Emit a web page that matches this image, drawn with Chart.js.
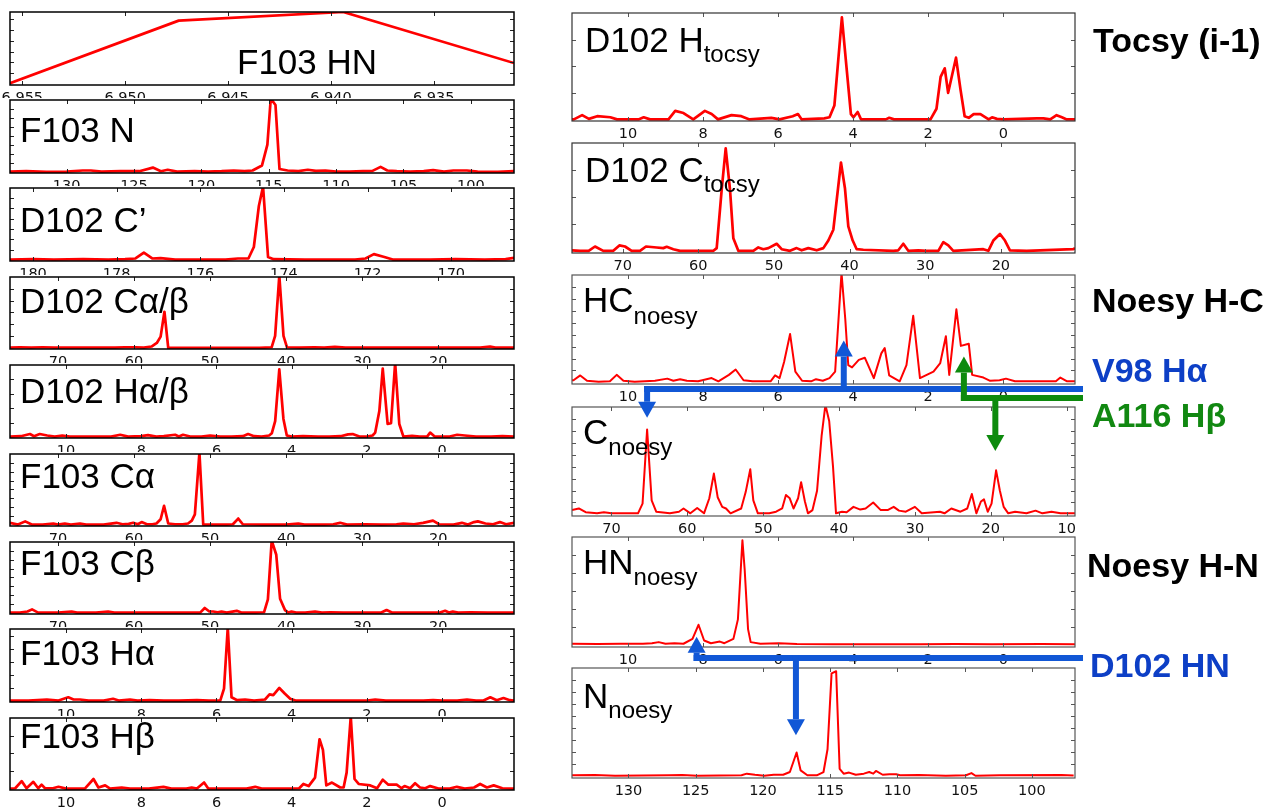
<!DOCTYPE html>
<html><head><meta charset="utf-8">
<script src="https://cdn.jsdelivr.net/npm/chart.js@4.4.1/dist/chart.umd.min.js"></script>
<style>
html,body{margin:0;padding:0;background:#fff;}
#page{position:relative;width:1273px;height:807px;overflow:hidden;background:#fff;}
.pn{position:absolute;background:#fff;}
.pn canvas{display:block;}
#ov{position:absolute;left:0;top:0;z-index:100;pointer-events:none;}
</style></head>
<body><div id="page">
<svg id="ov" width="1273" height="807" xmlns="http://www.w3.org/2000/svg">
<g id="arrows"></g>
<g font-family="'Liberation Sans', Arial, sans-serif" font-size="35" fill="#000">
<text x="237" y="74">F103 HN</text>
<text x="20" y="142">F103 N</text>
<text x="20" y="232">D102 C’</text>
<text x="20" y="313">D102 Cα/β</text>
<text x="20" y="403">D102 Hα/β</text>
<text x="20" y="488">F103 Cα</text>
<text x="20" y="575">F103 Cβ</text>
<text x="20" y="665">F103 Hα</text>
<text x="20" y="748">F103 Hβ</text>
<text x="585" y="52">D102 H<tspan dy="10" font-size="24">tocsy</tspan></text>
<text x="585" y="182">D102 C<tspan dy="10" font-size="24">tocsy</tspan></text>
<text x="583" y="312">HC<tspan dy="12" font-size="24">noesy</tspan></text>
<text x="583" y="444">C<tspan dy="11" font-size="24">noesy</tspan></text>
<text x="583" y="574">HN<tspan dy="11" font-size="24">noesy</tspan></text>
<text x="583" y="708">N<tspan dy="10" font-size="24">noesy</tspan></text>
</g>
<g font-family="'Liberation Sans', Arial, sans-serif" font-size="34" font-weight="bold">
<text x="1093" y="52" fill="#000">Tocsy (i-1)</text>
<text x="1092" y="312" fill="#000">Noesy H-C</text>
<text x="1092" y="382" fill="#0d3fc6">V98 Hα</text>
<text x="1092" y="427" fill="#118811">A116 Hβ</text>
<text x="1087" y="577" fill="#000">Noesy H-N</text>
<text x="1090" y="677" fill="#0d3fc6">D102 HN</text>
</g>
</svg>
</div>
<script>
// ---------- axis ranges (ppm) ----------
const HN_RANGE = [6.9311, 6.9556];
const N_RANGE  = [96.8, 134.2];
const CO_RANGE = [168.5, 180.55];
const C_RANGE  = [10.05, 76.3];
const H_RANGE  = [-1.91, 11.49];
const CT_RANGE = [10.2, 76.7];
const CN_RANGE = [8.9, 75.2];

// ---------- spectra: [ppm, normalised intensity] ----------
const F103_HN = [[6.9556,0.01],[6.9474,0.88],[6.9394,1.0],[6.9311,0.29]];
const F103_N = [[134.2,0.005],[133,0.01],[131.5,0.0],[130,0.005],[128.8,0.02],[128.2,0.02],[127.4,0.005],[126,0.01],[124.6,0.01],[123.6,0.06],[123,0.01],[122.5,0.03],[121.8,0.005],[120.5,0.01],[119.5,0.005],[118.5,0.01],[117.6,0.02],[116.8,0.01],[116.2,0.02],[115.5,0.09],[115.1,0.38],[114.85,1.02],[114.5,0.93],[114.2,0.04],[113.6,0.02],[112.8,0.01],[112.1,0.03],[111.5,0.015],[110.8,0.02],[110,0.005],[109,0.005],[108,0.01],[107.3,0.015],[106.7,0.07],[106.2,0.02],[105.5,0.01],[104.5,0.005],[103.5,0.01],[102.8,0.025],[102,0.005],[101.3,0.02],[100.3,0.02],[99.5,0.005],[98,0.0],[96.8,0.01]];
const D102_CO = [[180.55,0.005],[180,0.01],[179.5,0.005],[178.8,0.01],[178.2,0.005],[177.8,0.01],[177.55,0.02],[177.35,0.1],[177.15,0.02],[176.95,0.025],[176.6,0.005],[176,0.005],[175.4,0.005],[175.1,0.02],[174.85,0.02],[174.72,0.18],[174.6,0.75],[174.5,1.02],[174.38,0.04],[174.25,0.01],[173.5,0.005],[173,0.005],[172.3,0.005],[172.05,0.02],[171.85,0.08],[171.6,0.04],[171.4,0.005],[170.5,0.005],[169.9,0.01],[169.2,0.005],[168.7,0.01],[168.5,0.03]];
const D102_CAB = [[76.3,0.005],[75,0.01],[73.5,0.005],[72,0.01],[70.5,0.005],[68,0.005],[65,0.005],[62.5,0.005],[61.2,0.01],[59.8,0.01],[58.7,0.005],[57.7,0.02],[57.0,0.07],[56.5,0.16],[56.0,0.51],[55.5,0.0],[54.5,0.0],[50,0.0],[46,0.0],[43.5,0.0],[41.9,0.01],[41.45,0.17],[40.9,1.02],[40.35,0.17],[39.9,0.01],[38.2,0.005],[36.3,0.01],[35,0.005],[33.6,0.015],[32.2,0.005],[28,0.005],[25,0.005],[22,0.005],[18,0.005],[14.5,0.005],[13.2,0.02],[12.5,0.005],[10.05,0.005]];
const D102_HAB = [[11.49,0.005],[11.2,0.01],[10.96,0.04],[10.85,0.01],[10.7,0.04],[10.5,0.02],[10.3,0.005],[10.1,0.02],[9.9,0.005],[9.2,0.005],[8.8,0.005],[8.56,0.03],[8.35,0.005],[8.0,0.01],[7.82,0.025],[7.6,0.005],[7.4,0.01],[7.1,0.03],[7.0,0.005],[6.89,0.03],[6.7,0.005],[6.4,0.005],[6.17,0.02],[5.9,0.005],[5.6,0.005],[5.3,0.01],[5.16,0.04],[5.0,0.01],[4.8,0.005],[4.6,0.02],[4.53,0.05],[4.44,0.22],[4.33,0.94],[4.22,0.25],[4.13,0.02],[4.0,0.005],[3.7,0.01],[3.3,0.005],[3.0,0.005],[2.7,0.01],[2.5,0.035],[2.38,0.04],[2.2,0.005],[2.0,0.005],[1.85,0.02],[1.78,0.06],[1.67,0.36],[1.58,0.95],[1.45,0.18],[1.36,0.19],[1.25,1.03],[1.14,0.18],[1.03,0.005],[0.8,0.015],[0.6,0.005],[0.4,0.005],[0.32,0.06],[0.2,0.005],[-0.2,0.005],[-0.4,0.03],[-0.6,0.02],[-0.9,0.005],[-1.3,0.005],[-1.6,0.01],[-1.91,0.005]];
const F103_CA = [[76.3,0.03],[75.25,0.005],[74.3,0.05],[73.45,0.005],[72,0.005],[70.6,0.02],[70.0,0.005],[69.1,0.02],[68.3,0.005],[67.1,0.02],[66.3,0.005],[64,0.005],[62.3,0.03],[61.5,0.01],[60.7,0.015],[60.1,0.03],[59.5,0.01],[59.0,0.04],[58.3,0.01],[57.6,0.01],[57.05,0.02],[56.5,0.08],[56.05,0.27],[55.5,0.02],[54.6,0.01],[53.6,0.01],[52.9,0.02],[52.4,0.06],[52.0,0.15],[51.4,1.02],[50.9,0.005],[49.3,0.005],[47.8,0.005],[47.0,0.01],[46.3,0.09],[45.7,0.01],[43,0.005],[40,0.005],[38.4,0.02],[37.6,0.005],[35,0.005],[33.8,0.01],[32.9,0.03],[32.0,0.005],[29.6,0.01],[27.5,0.005],[25.5,0.01],[24.6,0.02],[23.2,0.01],[22.0,0.03],[20.7,0.06],[19.9,0.01],[18,0.005],[16.9,0.03],[16.1,0.005],[15.3,0.04],[14.8,0.05],[13.8,0.02],[12.8,0.01],[11.9,0.04],[11.1,0.01],[10.05,0.03]];
const F103_CB = [[76.3,0.005],[75,0.005],[74,0.02],[73.4,0.05],[72.6,0.005],[70,0.005],[68.2,0.02],[67.5,0.005],[65,0.005],[63.4,0.02],[62.6,0.005],[58,0.005],[54,0.005],[51.3,0.005],[50.7,0.07],[50.1,0.02],[49.6,0.02],[49.0,0.01],[48.5,0.02],[47.8,0.005],[46.5,0.03],[45.9,0.005],[44,0.005],[42.9,0.01],[42.4,0.19],[41.9,1.02],[41.3,0.82],[40.8,0.2],[40.15,0.04],[39.7,0.005],[39.3,0.02],[38.7,0.005],[37.5,0.005],[36.2,0.02],[35.3,0.005],[34.2,0.01],[32.5,0.005],[29.5,0.005],[27.5,0.005],[26.8,0.04],[26.1,0.005],[22.5,0.005],[19.8,0.005],[19.1,0.03],[18.6,0.005],[18.1,0.02],[17.4,0.005],[15.8,0.01],[13.5,0.005],[10.05,0.005]];
const F103_HA = [[11.49,0.005],[11,0.005],[10.51,0.02],[10.2,0.005],[9.94,0.05],[9.8,0.02],[9.63,0.02],[9.4,0.005],[9,0.005],[8.75,0.03],[8.6,0.005],[8.3,0.02],[8.1,0.005],[7.77,0.01],[7.4,0.005],[7,0.005],[6.52,0.01],[6.2,0.005],[5.9,0.005],[5.8,0.17],[5.7,1.02],[5.6,0.05],[5.45,0.01],[5.24,0.02],[5.0,0.005],[4.71,0.02],[4.59,0.09],[4.49,0.08],[4.33,0.18],[4.18,0.1],[4.04,0.03],[3.9,0.005],[3.5,0.005],[3,0.005],[2.5,0.005],[2,0.005],[1.78,0.02],[1.5,0.005],[1,0.005],[0.5,0.005],[0.24,0.01],[0,0.005],[-0.4,0.005],[-0.66,0.02],[-0.9,0.005],[-1.1,0.005],[-1.28,0.05],[-1.45,0.01],[-1.63,0.04],[-1.8,0.01],[-1.91,0.005]];
const F103_HB = [[11.49,0.005],[11.35,0.01],[11.18,0.11],[11.05,0.01],[10.87,0.1],[10.74,0.01],[10.65,0.06],[10.56,0.01],[10.35,0.01],[10.2,0.03],[10.0,0.005],[9.5,0.005],[9.27,0.14],[9.14,0.02],[8.96,0.05],[8.83,0.005],[8.52,0.02],[8.3,0.005],[7.8,0.005],[7.41,0.03],[7.2,0.005],[6.8,0.005],[6.66,0.02],[6.52,0.005],[6.33,0.09],[6.22,0.005],[5.8,0.005],[5.2,0.005],[4.97,0.03],[4.8,0.005],[4.3,0.005],[4.0,0.005],[3.8,0.01],[3.69,0.07],[3.55,0.04],[3.38,0.16],[3.26,0.70],[3.17,0.55],[3.08,0.05],[2.93,0.09],[2.71,0.02],[2.62,0.02],[2.54,0.23],[2.43,1.02],[2.33,0.14],[2.22,0.07],[1.91,0.05],[1.73,0.01],[1.58,0.13],[1.43,0.06],[1.21,0.06],[1.08,0.01],[1.0,0.04],[0.85,0.01],[0.72,0.08],[0.59,0.02],[0.45,0.01],[0.32,0.04],[0.1,0.005],[-0.2,0.005],[-0.39,0.03],[-0.6,0.005],[-0.85,0.02],[-1.01,0.07],[-1.19,0.02],[-1.37,0.05],[-1.6,0.01],[-1.91,0.005]];
const D102_HTOCSY = [[11.49,0.0],[11.44,0.0],[11.22,0.04],[11.04,0.005],[10.82,0.03],[10.47,0.02],[10.29,0.0],[9.72,0.0],[9.58,0.02],[9.41,0.0],[8.92,0.0],[8.74,0.08],[8.52,0.06],[8.26,0.0],[7.95,0.08],[7.77,0.05],[7.6,0.0],[7.24,0.04],[6.98,0.03],[6.76,0.0],[6.18,0.015],[5.96,0.0],[5.61,0.03],[5.47,0.05],[5.37,0.0],[4.77,0.01],[4.63,0.02],[4.5,0.13],[4.30,0.96],[4.18,0.5],[4.06,0.05],[3.99,0.02],[3.88,0.07],[3.79,0.0],[3.13,0.0],[3.04,0.015],[2.91,0.0],[1.94,0.0],[1.78,0.1],[1.67,0.4],[1.56,0.48],[1.47,0.25],[1.26,0.58],[1.14,0.28],[1.03,0.03],[0.92,0.015],[0.79,0.05],[0.61,0.05],[0.39,0.0],[0.30,0.02],[0.17,0.005],[-0.01,0.0],[-0.89,0.01],[-1.07,0.01],[-1.25,0.0],[-1.42,0.04],[-1.56,0.02],[-1.69,0.0],[-1.91,0.0]];
const D102_CTOCSY = [[76.7,0.01],[75.64,0.005],[74.5,0.005],[73.66,0.045],[72.56,0.005],[71.24,0.005],[70.44,0.055],[69.69,0.045],[68.81,0.005],[67.71,0.005],[66.92,0.045],[65.51,0.036],[64.63,0.03],[64.18,0.042],[63.3,0.02],[62.42,0.005],[58,0.005],[57.57,0.03],[56.91,0.57],[56.38,0.95],[55.81,0.57],[55.37,0.12],[54.71,0.005],[52.73,0.005],[52.07,0.036],[51.41,0.02],[50.74,0.03],[49.64,0.07],[48.98,0.02],[47.88,0.005],[47.0,0.03],[46.34,0.01],[45.46,0.03],[44.35,0.01],[43.47,0.03],[42.81,0.1],[42.15,0.2],[41.14,0.82],[40.61,0.58],[40.17,0.23],[39.59,0.1],[39.06,0.02],[38.18,0.015],[34.22,0.005],[33.56,0.01],[32.9,0.07],[32.24,0.005],[30.91,0.01],[29.81,0.005],[28.27,0.005],[27.61,0.085],[26.95,0.055],[26.29,0.005],[22.32,0.02],[21.66,0.005],[21.0,0.1],[20.12,0.16],[19.46,0.1],[18.8,0.01],[16.59,0.005],[10.42,0.02],[10.2,0.03]];
const HC_NOESY = [[11.49,0.02],[11.45,0.02],[11.27,0.065],[11.09,0.015],[10.78,0.005],[10.48,0.01],[10.3,0.07],[10.12,0.015],[9.82,0.005],[9.28,0.015],[8.95,0.035],[8.79,0.015],[8.61,0.03],[8.43,0.015],[8.13,0.01],[7.77,0.04],[7.59,0.01],[7.31,0.07],[7.13,0.12],[6.92,0.02],[6.68,0.01],[6.2,0.01],[6.08,0.065],[5.96,0.04],[5.84,0.19],[5.68,0.45],[5.54,0.1],[5.36,0.015],[5.12,0.01],[4.99,0.03],[4.81,0.015],[4.63,0.04],[4.48,0.1],[4.31,1.02],[4.21,0.59],[4.13,0.16],[4.03,0.14],[3.85,0.21],[3.69,0.23],[3.45,0.04],[3.25,0.27],[3.16,0.32],[3.04,0.065],[2.76,0.01],[2.58,0.16],[2.40,0.62],[2.22,0.04],[1.86,0.1],[1.68,0.18],[1.53,0.43],[1.44,0.07],[1.25,0.68],[1.13,0.34],[0.92,0.36],[0.83,0.07],[0.53,0.045],[0.35,0.015],[0.1,0.02],[-0.07,0.035],[-0.31,0.01],[-0.92,0.01],[-1.4,0.01],[-1.52,0.045],[-1.7,0.01],[-1.91,0.01]];
const C_NOESY = [[75.2,0.04],[74.3,0.055],[73.4,0.02],[71.9,0.01],[71.0,0.02],[70.0,0.01],[66.5,0.01],[65.9,0.1],[65.3,0.79],[64.7,0.13],[64.1,0.025],[62.3,0.01],[61.1,0.025],[60.5,0.055],[59.6,0.01],[58.7,0.06],[57.8,0.01],[57.1,0.15],[56.5,0.38],[56.0,0.16],[55.4,0.07],[54.9,0.055],[54.3,0.01],[52.9,0.055],[52.3,0.21],[51.7,0.42],[51.3,0.13],[50.7,0.01],[49.2,0.01],[48.3,0.025],[47.5,0.055],[47.0,0.18],[46.5,0.15],[46.0,0.055],[45.4,0.15],[45.0,0.3],[44.5,0.12],[44.1,0.01],[43.5,0.04],[42.9,0.22],[42.3,0.73],[41.8,1.02],[41.3,0.87],[40.8,0.45],[40.4,0.01],[39.6,0.025],[39.0,0.02],[38.1,0.07],[37.2,0.045],[36.5,0.055],[35.5,0.11],[34.5,0.04],[33.6,0.04],[32.8,0.07],[32.1,0.035],[31.2,0.025],[30.0,0.07],[29.1,0.01],[26.7,0.025],[26.1,0.01],[25.2,0.055],[24.0,0.025],[23.1,0.055],[22.5,0.19],[21.9,0.01],[21.3,0.12],[20.9,0.14],[20.4,0.025],[19.9,0.1],[19.3,0.41],[18.8,0.22],[18.3,0.07],[17.7,0.01],[16.8,0.025],[15.3,0.01],[14.1,0.035],[13.2,0.01],[12.0,0.025],[10.8,0.01],[8.9,0.01]];
const HN_NOESY = [[11.49,0.015],[11.47,0.015],[10.81,0.012],[10.2,0.015],[9.6,0.015],[9.36,0.02],[9.18,0.03],[9.0,0.015],[8.76,0.02],[8.52,0.015],[8.28,0.06],[8.12,0.19],[7.97,0.045],[7.79,0.02],[7.55,0.035],[7.43,0.02],[7.19,0.06],[7.07,0.24],[6.95,0.97],[6.89,0.70],[6.8,0.15],[6.73,0.03],[6.47,0.015],[5.98,0.02],[5.5,0.012],[4.54,0.01],[3.33,0.01],[2.2,0.01],[1.28,0.012],[0.3,0.01],[-1.01,0.012],[-1.91,0.01]];
const N_NOESY = [[134.2,0.01],[132.5,0.012],[131.0,0.006],[127.0,0.01],[126.0,0.012],[124.9,0.006],[121.6,0.01],[121.2,0.025],[120.6,0.015],[119.9,0.006],[119.2,0.015],[118.5,0.015],[118.0,0.04],[117.5,0.22],[117.2,0.055],[116.7,0.01],[116.0,0.01],[115.5,0.04],[115.2,0.25],[114.9,0.95],[114.56,0.97],[114.3,0.07],[114.0,0.025],[113.6,0.035],[113.1,0.015],[112.5,0.025],[112.1,0.04],[111.8,0.025],[111.6,0.05],[111.1,0.015],[110.6,0.02],[110.1,0.02],[109.8,0.01],[108.4,0.012],[106.4,0.006],[104.9,0.01],[104.5,0.03],[104.2,0.006],[102.4,0.01],[97.8,0.012],[96.9,0.008]];

// ---------- layout (plot boxes: x0,y0,x1,y1) ----------
const PANELS = [
  {d:F103_HN,     r:HN_RANGE, st:0.005, dec:3, b:[10,12,514,85],    ys:0.15,  s:'L'},
  {d:F103_N,      r:N_RANGE,  st:5,  b:[10,100,514,173],  ys:0.125, s:'L'},
  {d:D102_CO,     r:CO_RANGE, st:2,  b:[10,188,514,261],  ys:0.143, s:'L'},
  {d:D102_CAB,    r:C_RANGE,  st:10, b:[10,277,514,349],  ys:0.167, s:'L'},
  {d:D102_HAB,    r:H_RANGE,  st:2,  b:[10,365,514,438],  ys:0.2,   s:'L'},
  {d:F103_CA,     r:C_RANGE,  st:10, b:[10,454,514,526],  ys:0.125, s:'L'},
  {d:F103_CB,     r:C_RANGE,  st:10, b:[10,542,514,614],  ys:0.125, s:'L'},
  {d:F103_HA,     r:H_RANGE,  st:2,  b:[10,629,514,702],  ys:0.18,  s:'L'},
  {d:F103_HB,     r:H_RANGE,  st:2,  b:[10,718,514,790],  ys:0.25,  s:'L'},
  {d:D102_HTOCSY, r:H_RANGE,  st:2,  b:[572,13,1075,121], ys:0.25,  s:'R'},
  {d:D102_CTOCSY, r:CT_RANGE, st:10, b:[572,143,1075,253],ys:0.25,  s:'R'},
  {d:HC_NOESY,    r:H_RANGE,  st:2,  b:[572,275,1075,384],ys:0.111, s:'T'},
  {d:C_NOESY,     r:CN_RANGE, st:10, b:[572,407,1075,516],ys:0.111, s:'T'},
  {d:HN_NOESY,    r:H_RANGE,  st:2,  b:[572,537,1075,647],ys:0.167, s:'T'},
  {d:N_NOESY,     r:N_RANGE,  st:5,  b:[572,668,1075,778],ys:0.111, s:'T'}
];
const AXH = 26;
const YMIN = -0.015, YMAX = 1.0;

const framePlugin = {
  id: 'frame',
  afterDatasetsDraw(chart, args, o) {
    const {ctx, chartArea: a, scales: {x, y}} = chart;
    ctx.save();
    ctx.strokeStyle = o.tickColor; ctx.lineWidth = 1;
    const L = 4;
    const xl = Math.min(x.min, x.max), xh = Math.max(x.min, x.max);
    ctx.beginPath();
    for (let k = Math.ceil(xl / o.xs - 1e-6); k * o.xs <= xh + 1e-9; k++) {
      const px = Math.round(x.getPixelForValue(k * o.xs)) + 0.5;
      ctx.moveTo(px, a.bottom); ctx.lineTo(px, a.bottom - L);
      ctx.moveTo(px, a.top); ctx.lineTo(px, a.top + L);
    }
    for (let k = 1; k * o.ys < YMAX - 0.02; k++) {
      const py = Math.round(y.getPixelForValue(k * o.ys)) + 0.5;
      ctx.moveTo(a.left, py); ctx.lineTo(a.left + L, py);
      ctx.moveTo(a.right, py); ctx.lineTo(a.right - L, py);
    }
    ctx.stroke();
    ctx.strokeStyle = o.borderColor; ctx.lineWidth = o.borderWidth;
    ctx.strokeRect(a.left, a.top, a.right - a.left, a.bottom - a.top);
    ctx.restore();
  }
};

const page = document.getElementById('page');
const charts = [];
PANELS.forEach((p, i) => {
  const [x0, y0, x1, y1] = p.b;
  const left = p.s === 'L' ? 0 : 552;
  const padL = x0 - left, padR = p.s === 'L' ? 6 : 12, padT = 2;
  const top = y0 - padT;
  const W = (x1 - left) + padR, H = padT + (y1 - y0) + AXH;
  const div = document.createElement('div');
  div.className = 'pn';
  div.style.left = left + 'px'; div.style.top = top + 'px';
  div.style.width = W + 'px'; div.style.height = H + 'px';
  div.style.zIndex = 10 + i;
  const cv = document.createElement('canvas');
  cv.width = W; cv.height = H; cv.style.width = W + 'px'; cv.style.height = H + 'px';
  div.appendChild(cv); page.appendChild(div);
  const thin = p.s === 'T';
  const ch = new Chart(cv, {
    type: 'line',
    data: {datasets: [{data: p.d.map(([x, y]) => ({x, y})), borderColor: '#ff0000',
      borderWidth: thin ? 2.0 : 2.7, pointRadius: 0, tension: 0, fill: false, borderJoinStyle: 'round'}]},
    options: {
      responsive: false, animation: false, events: [], devicePixelRatio: 1,
      layout: {padding: {left: padL, right: padR, top: padT, bottom: 0}},
      plugins: {legend: {display: false}, tooltip: {enabled: false},
        frame: {xs: p.st, ys: p.ys, tickColor: p.s === 'L' ? '#222' : '#555',
          borderColor: p.s === 'L' ? '#000' : (p.s === 'R' ? '#333' : '#555'),
          borderWidth: p.s === 'L' ? 1.5 : 1.2}},
      scales: {
        x: {type: 'linear', reverse: true, min: p.r[0], max: p.r[1],
          grid: {display: false, drawTicks: false}, border: {display: false},
          ticks: {stepSize: p.st, autoSkip: false, maxRotation: 0, minRotation: 0, includeBounds: false,
            padding: 5, color: '#111', font: {family: '"DejaVu Sans", sans-serif', size: 14.5},
            callback: v => p.dec ? v.toFixed(p.dec) : String(Math.round(v))},
          afterFit: s => { s.height = AXH; s.paddingLeft = 0; s.paddingRight = 0; }},
        y: {display: false, min: YMIN, max: YMAX}
      }
    },
    plugins: [framePlugin]
  });
  charts.push({ch, left, top});
});

// ---------- annotation arrows, positioned through the charts' scales ----------
const NS = 'http://www.w3.org/2000/svg';
const ag = document.getElementById('arrows');
function px(c, v) { return c.left + c.ch.scales.x.getPixelForValue(v); }
function py(c, v) { return c.top + c.ch.scales.y.getPixelForValue(v); }
function bot(c) { return c.top + c.ch.chartArea.bottom; }
function rgt(c) { return c.left + c.ch.chartArea.right; }
function seg(x1, y1, x2, y2, col) {
  const l = document.createElementNS(NS, 'line');
  l.setAttribute('x1', x1); l.setAttribute('y1', y1); l.setAttribute('x2', x2); l.setAttribute('y2', y2);
  l.setAttribute('stroke', col); l.setAttribute('stroke-width', 6); ag.appendChild(l);
}
function arrow(x, yFrom, yTip, col) {
  const dir = yTip < yFrom ? -1 : 1;
  const base = yTip - dir * 16;
  seg(x, yFrom - dir * 3, x, base, col);
  const pg = document.createElementNS(NS, 'polygon');
  pg.setAttribute('points', `${x - 9},${base} ${x + 9},${base} ${x},${yTip}`);
  pg.setAttribute('fill', col); ag.appendChild(pg);
}
const BLUE = '#1157d6', GREEN = '#0d8a0d';
const HC = charts[11], CN = charts[12], HNc = charts[13], NN = charts[14];
// V98 Ha
{
  const yH = bot(HC) + 5, xe = rgt(HC) + 8;
  const xu = px(HC, 4.25), xd = px(CN, 65.3);
  seg(xd - 3, yH, xe, yH, BLUE);
  arrow(xu, yH, py(HC, 0.39), BLUE);
  arrow(xd, yH, py(CN, 0.9), BLUE);
}
// A116 Hb
{
  const yH = bot(HC) + 14, xe = rgt(HC) + 8;
  const xu = px(HC, 1.05), xd = px(CN, 19.4);
  seg(xu - 3, yH, xe, yH, GREEN);
  arrow(xu, yH, py(HC, 0.24), GREEN);
  arrow(xd, yH, py(CN, 0.59), GREEN);
}
// D102 HN
{
  const yH = bot(HNc) + 11, xe = rgt(HNc) + 8;
  const xu = px(HNc, 8.17), xd = px(NN, 117.55);
  seg(xu - 3, yH, xe, yH, BLUE);
  arrow(xu, yH, py(HNc, 0.08), BLUE);
  arrow(xd, yH, py(NN, 0.38), BLUE);
}
</script>
</body></html>
